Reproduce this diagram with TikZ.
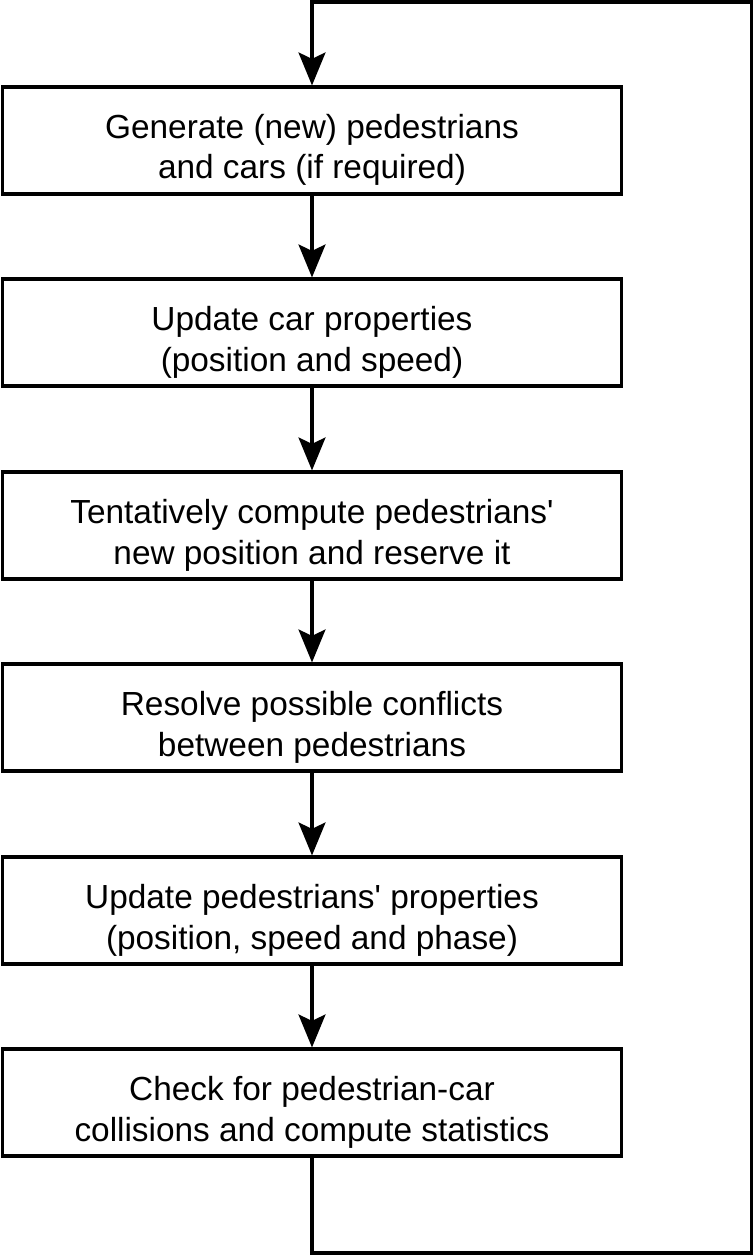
\documentclass[tikz,border=0pt]{standalone}
\usepackage{fontspec}
\setmainfont{Liberation Sans}
\usetikzlibrary{arrows.meta}

\begin{document}
\begin{tikzpicture}[x=0.02cm, y=-0.02cm,
    stepbox/.style={draw, line width=1.8pt, minimum width=12.39cm, minimum height=2.14cm,
        align=center, inner sep=0pt, text height=1.54cm, text depth=0pt,
        font=\fontsize{19}{22.8}\selectfont},
    flow/.style={line width=1.8pt, -{Stealth[length=0.66cm, width=0.54cm, inset=0.13cm]}}]
    % Page frame (keeps the margins)
    \useasboundingbox (0,0) rectangle (755,1255);

    % --- Steps of one simulation cycle ---
    \node[stepbox] (gen)   at (312,140.5)  {Generate (new) pedestrians\\and cars (if required)};
    \node[stepbox] (cars)  at (312,332.5)  {Update car properties\\(position and speed)};
    \node[stepbox] (tent)  at (312,525.5)  {Tentatively compute pedestrians\textquotesingle\\new position and reserve it};
    \node[stepbox] (res)   at (312,717.5)  {Resolve possible conflicts\\between pedestrians};
    \node[stepbox] (peds)  at (312,910.5)  {Update pedestrians\textquotesingle{} properties\\(position, speed and phase)};
    \node[stepbox] (check) at (312,1102.5) {Check for pedestrian-car\\collisions and compute statistics};

    % --- Arrows between the steps ---
    \draw[flow] (gen) -- (cars);
    \draw[flow] (cars) -- (tent);
    \draw[flow] (tent) -- (res);
    \draw[flow] (res) -- (peds);
    \draw[flow] (peds) -- (check);

    % --- Loop back to the first step ---
    \coordinate (loopbl) at (312,1253);
    \coordinate (loopbr) at (751.5,1253);
    \coordinate (looptr) at (751.5,2);
    \coordinate (looptl) at (312,2);
    \draw[flow] (check.south) -- (loopbl) -- (loopbr) -- (looptr) -- (looptl) -- (gen.north);
\end{tikzpicture}
\end{document}
